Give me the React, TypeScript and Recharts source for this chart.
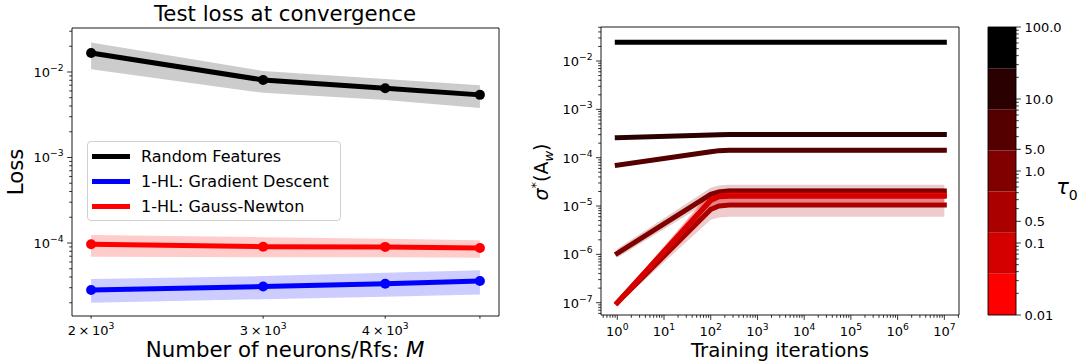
import React from 'react';
import { ComposedChart, Line, Area, XAxis, YAxis, ReferenceArea, Legend } from 'recharts';

const FONT = '"DejaVu Sans", Verdana, sans-serif';
const TICK_FONT = 13;

// left panel: test loss at convergence vs number of neurons
const neurons = [2000, 3000, 4000, 5000];
const neuronTickLabels = ['2', '3', '4'];
const rfLoss = [0.0167, 0.00806, 0.00645, 0.0054];
const rfLow = [0.0108, 0.0057, 0.0047, 0.0038];
const rfHigh = [0.0222, 0.0103, 0.0083, 0.007];
const gdLoss = [2.82e-5, 3.1e-5, 3.34e-5, 3.6e-5];
const gdLow = [2.0e-5, 2.2e-5, 2.35e-5, 2.5e-5];
const gdHigh = [3.8e-5, 4.1e-5, 4.5e-5, 4.8e-5];
const gnLoss = [9.66e-5, 9.05e-5, 9.0e-5, 8.75e-5];
const gnLow = [6.9e-5, 6.8e-5, 6.8e-5, 6.7e-5];
const gnHigh = [1.24e-4, 1.17e-4, 1.12e-4, 1.08e-4];

const legendItems = [
  { name: 'Random Features', color: '#000000' },
  { name: '1-HL: Gradient Descent', color: '#0000ff' },
  { name: '1-HL: Gauss-Newton', color: '#ff0000' },
];

// right panel: sigma*(A_w) over training, one curve per tau_0
const iterations = [1, 100, 150, 250, 1e3, 1e4, 1e5, 1e6, 1e7];
const sigTau100 = [0.0245, 0.0245, 0.0245, 0.0245, 0.0245, 0.0245, 0.0245, 0.0245, 0.0245];
const sigTau10 = [2.6e-4, 2.95e-4, 3.0e-4, 3.02e-4, 3.02e-4, 3.02e-4, 3.02e-4, 3.02e-4, 3.02e-4];
const sigTau10Low = [2.5e-4, 2.85e-4, 2.9e-4, 2.92e-4, 2.92e-4, 2.92e-4, 2.92e-4, 2.92e-4, 2.92e-4];
const sigTau10High = [2.7e-4, 3.05e-4, 3.1e-4, 3.12e-4, 3.12e-4, 3.12e-4, 3.12e-4, 3.12e-4, 3.12e-4];
const sigTau5 = [7.0e-5, 1.33e-4, 1.4e-4, 1.43e-4, 1.43e-4, 1.43e-4, 1.43e-4, 1.43e-4, 1.43e-4];
const sigTau5Low = [6.4e-5, 1.2e-4, 1.25e-4, 1.27e-4, 1.27e-4, 1.27e-4, 1.27e-4, 1.27e-4, 1.27e-4];
const sigTau5High = [7.6e-5, 1.47e-4, 1.55e-4, 1.58e-4, 1.58e-4, 1.58e-4, 1.58e-4, 1.58e-4, 1.58e-4];
const sigTau1 = [1.05e-6, 1.75e-5, 1.95e-5, 2.05e-5, 2.05e-5, 2.05e-5, 2.05e-5, 2.05e-5, 2.05e-5];
const sigTau1Low = [0.85e-6, 1.3e-5, 1.5e-5, 1.55e-5, 1.55e-5, 1.55e-5, 1.55e-5, 1.55e-5, 1.55e-5];
const sigTau1High = [1.3e-6, 2.4e-5, 2.65e-5, 2.75e-5, 2.75e-5, 2.75e-5, 2.75e-5, 2.75e-5, 2.75e-5];
const sigTau05 = [1.0e-7, 8.5e-6, 1.0e-5, 1.05e-5, 1.05e-5, 1.05e-5, 1.05e-5, 1.05e-5, 1.05e-5];
const sigTau05Low = [0.9e-7, 5.2e-6, 5.8e-6, 6.0e-6, 6.0e-6, 6.0e-6, 6.0e-6, 6.0e-6, 6.0e-6];
const sigTau05High = [1.1e-7, 1.4e-5, 1.7e-5, 1.8e-5, 1.8e-5, 1.8e-5, 1.8e-5, 1.8e-5, 1.8e-5];
const sigTau01 = [1.0e-7, 1.3e-5, 1.55e-5, 1.6e-5, 1.6e-5, 1.6e-5, 1.6e-5, 1.6e-5, 1.6e-5];
const sigTau01Low = [0.9e-7, 9.0e-6, 1.1e-5, 1.15e-5, 1.15e-5, 1.15e-5, 1.15e-5, 1.15e-5, 1.15e-5];
const sigTau01High = [1.1e-7, 1.9e-5, 2.2e-5, 2.3e-5, 2.3e-5, 2.3e-5, 2.3e-5, 2.3e-5, 2.3e-5];
const sigTau001 = [1.0e-7, 1.35e-5, 1.6e-5, 1.68e-5, 1.68e-5, 1.68e-5, 1.68e-5, 1.68e-5, 1.68e-5];
const sigTau001Low = [0.9e-7, 9.5e-6, 1.15e-5, 1.2e-5, 1.2e-5, 1.2e-5, 1.2e-5, 1.2e-5, 1.2e-5];
const sigTau001High = [1.1e-7, 1.95e-5, 2.25e-5, 2.35e-5, 2.35e-5, 2.35e-5, 2.35e-5, 2.35e-5, 2.35e-5];

// colorbar
const tauTicks = [0.01, 0.1, 0.2, 1, 2, 10, 100];
const tauTickLabels = ['0.01', '0.1', '0.5', '1.0', '5.0', '10.0', '100.0'];
const tauBounds = [0.01, 0.0373, 0.139, 0.518, 1.93, 7.2, 26.8, 100];
const tauColors = ['#ff0000', '#d40000', '#aa0000', '#800000', '#550000', '#2a0000', '#000000'];

const lossData = neurons.map((m, i) => ({
  m,
  rf: rfLoss[i],
  rfBand: [rfLow[i], rfHigh[i]],
  gd: gdLoss[i],
  gdBand: [gdLow[i], gdHigh[i]],
  gn: gnLoss[i],
  gnBand: [gnLow[i], gnHigh[i]],
}));

const tauSeries = [
  { key: 't100', color: '#000000', values: sigTau100, low: null, high: null },
  { key: 't10', color: '#2a0000', values: sigTau10, low: sigTau10Low, high: sigTau10High },
  { key: 't5', color: '#550000', values: sigTau5, low: sigTau5Low, high: sigTau5High },
  { key: 't1', color: '#800000', values: sigTau1, low: sigTau1Low, high: sigTau1High },
  { key: 't05', color: '#aa0000', values: sigTau05, low: sigTau05Low, high: sigTau05High },
  { key: 't001', color: '#ff0000', values: sigTau001, low: sigTau001Low, high: sigTau001High },
  { key: 't01', color: '#d40000', values: sigTau01, low: sigTau01Low, high: sigTau01High },
];

const sigmaData = iterations.map((it, i) => {
  const row: Record<string, any> = { it };
  tauSeries.forEach((s) => {
    row[s.key] = s.values[i];
    if (s.low && s.high) row[s.key + 'Band'] = [s.low[i], s.high[i]];
  });
  return row;
});

const cbarData = [{ x: 0, v: 1 }, { x: 1, v: 1 }];

// 1..9 x 10^k ticks inside [lo, hi]
function logTicks(lo: number, hi: number) {
  const out: number[] = [];
  for (let e = Math.floor(Math.log10(lo)); e <= Math.ceil(Math.log10(hi)); e++) {
    for (let k = 1; k < 10; k++) {
      const v = k * Math.pow(10, e);
      if (v >= lo * 0.999999 && v <= hi * 1.000001) out.push(v);
    }
  }
  return out;
}

function sup(base: string, exp: string) {
  return (
    <>
      <tspan>{base}</tspan>
      <tspan dy={-6} fontSize={9.2}>{exp}</tspan>
    </>
  );
}

function decade(v: number) {
  const e = Math.round(Math.log10(v));
  return sup('10', e < 0 ? `\u2212${-e}` : `${e}`);
}

type Side = 'left' | 'bottom' | 'right';

function makeTick(side: Side, labelled: number[], fmt: (v: number, i: number) => React.ReactNode, majorLen = 4.9, minorLen = 2.8) {
  return (props: any) => {
    const { x, y, payload } = props;
    const v = payload.value as number;
    const idx = labelled.findIndex((m) => Math.abs(m - v) <= m * 1e-6);
    const len = idx >= 0 ? majorLen : minorLen;
    if (side === 'left') {
      return (
        <g>
          <line x1={x} y1={y} x2={x - len} y2={y} stroke="#000" strokeWidth={0.8} />
          {idx >= 0 && (
            <text x={x - len - 3.5} y={y + 5} textAnchor="end" fontSize={TICK_FONT} fontFamily={FONT} fill="#000">
              {fmt(v, idx)}
            </text>
          )}
        </g>
      );
    }
    if (side === 'right') {
      return (
        <g>
          <line x1={x} y1={y} x2={x + len} y2={y} stroke="#000" strokeWidth={0.8} />
          {idx >= 0 && (
            <text x={x + len + 3.5} y={y + 4.7} textAnchor="start" fontSize={TICK_FONT} fontFamily={FONT} fill="#000">
              {fmt(v, idx)}
            </text>
          )}
        </g>
      );
    }
    return (
      <g>
        <line x1={x} y1={y} x2={x} y2={y + len} stroke="#000" strokeWidth={0.8} />
        {idx >= 0 && (
          <text x={x} y={y + len + 16} textAnchor="middle" fontSize={TICK_FONT} fontFamily={FONT} fill="#000">
            {fmt(v, idx)}
          </text>
        )}
      </g>
    );
  };
}

function LossLegend() {
  return (
    <div
      style={{
        width: 252,
        height: 78,
        border: '1px solid #d0d0d0',
        borderRadius: 4,
        background: 'rgba(255,255,255,0.8)',
        fontFamily: FONT,
        fontSize: 16,
        position: 'relative',
      }}
    >
      {legendItems.map((item, i) => (
        <div key={item.name} style={{ position: 'absolute', left: 4, top: 4 + i * 25, height: 20, display: 'flex', alignItems: 'center' }}>
          <span style={{ display: 'inline-block', width: 38, height: 5, background: item.color, marginRight: 11 }} />
          <span style={{ color: '#000', whiteSpace: 'nowrap' }}>{item.name}</span>
        </div>
      ))}
    </div>
  );
}

function LossPanel() {
  const yDomain = [1.4e-5, 0.0327];
  const xDomain = [1912, 5230];
  return (
    <div style={{ position: 'absolute', left: 0, top: 0 }}>
      <ComposedChart width={520} height={362} data={lossData} margin={{ top: 28, left: 71, right: 21, bottom: 45 }}>
        <XAxis
          dataKey="m"
          type="number"
          scale="log"
          domain={xDomain}
          allowDataOverflow
          ticks={neurons}
          interval={0}
          height={1}
          tickSize={0}
          tickMargin={0}
          axisLine={false}
          tick={makeTick('bottom', neurons.slice(0, 3), (v, i) => sup(`${neuronTickLabels[i]}\u2009\u00d7\u200910`, '3'), 2.8, 2.8)}
        />
        <YAxis
          type="number"
          scale="log"
          domain={yDomain}
          allowDataOverflow
          ticks={logTicks(yDomain[0], yDomain[1])}
          interval={0}
          width={1}
          tickSize={0}
          tickMargin={0}
          axisLine={false}
          tick={makeTick('left', [1e-4, 1e-3, 1e-2], (v) => decade(v))}
        />
        <Area dataKey="rfBand" type="linear" stroke="none" fill="#000000" fillOpacity={0.2} isAnimationActive={false} />
        <Area dataKey="gdBand" type="linear" stroke="none" fill="#0000ff" fillOpacity={0.2} isAnimationActive={false} />
        <Area dataKey="gnBand" type="linear" stroke="none" fill="#ff0000" fillOpacity={0.2} isAnimationActive={false} />
        <Line dataKey="rf" type="linear" stroke="#000000" strokeWidth={5} dot={{ r: 5, fill: '#000000', strokeWidth: 0 }} activeDot={false} isAnimationActive={false} />
        <Line dataKey="gd" type="linear" stroke="#0000ff" strokeWidth={5} dot={{ r: 5, fill: '#0000ff', strokeWidth: 0 }} activeDot={false} isAnimationActive={false} />
        <Line dataKey="gn" type="linear" stroke="#ff0000" strokeWidth={5} dot={{ r: 5, fill: '#ff0000', strokeWidth: 0 }} activeDot={false} isAnimationActive={false} />
        <ReferenceArea x1={xDomain[0]} x2={xDomain[1]} y1={yDomain[0]} y2={yDomain[1]} fill="none" fillOpacity={0} stroke="#000" strokeWidth={0.9} ifOverflow="visible" />
        <Legend
          layout="vertical"
          align="center"
          verticalAlign="middle"
          wrapperStyle={{ left: 87, top: 141, width: 254, height: 80 }}
          content={() => <LossLegend />}
        />
      </ComposedChart>
    </div>
  );
}

function SigmaPanel() {
  const yDomain = [5.56e-8, 0.0506];
  const xDomain = [0.448, 2.06e7];
  return (
    <div style={{ position: 'absolute', left: 530, top: 0 }}>
      <ComposedChart width={440} height={362} data={sigmaData} margin={{ top: 27, left: 70, right: 11, bottom: 46 }}>
        <XAxis
          dataKey="it"
          type="number"
          scale="log"
          domain={xDomain}
          allowDataOverflow
          ticks={logTicks(xDomain[0], xDomain[1])}
          interval={0}
          height={1}
          tickSize={0}
          tickMargin={0}
          axisLine={false}
          tick={makeTick('bottom', [1, 10, 100, 1e3, 1e4, 1e5, 1e6, 1e7], (v) => decade(v))}
        />
        <YAxis
          type="number"
          scale="log"
          domain={yDomain}
          allowDataOverflow
          ticks={logTicks(yDomain[0], yDomain[1])}
          interval={0}
          width={1}
          tickSize={0}
          tickMargin={0}
          axisLine={false}
          tick={makeTick('left', [1e-7, 1e-6, 1e-5, 1e-4, 1e-3, 1e-2], (v) => decade(v))}
        />
        {tauSeries
          .filter((s) => s.low)
          .map((s) => (
            <Area key={s.key + 'Band'} dataKey={s.key + 'Band'} type="linear" stroke="none" fill={s.color} fillOpacity={0.2} isAnimationActive={false} />
          ))}
        {tauSeries.map((s) => (
          <Line
            key={s.key}
            dataKey={s.key}
            type="linear"
            stroke={s.color}
            strokeWidth={5}
            strokeLinecap="square"
            dot={false}
            activeDot={false}
            isAnimationActive={false}
          />
        ))}
        <ReferenceArea x1={xDomain[0]} x2={xDomain[1]} y1={yDomain[0]} y2={yDomain[1]} fill="none" fillOpacity={0} stroke="#000" strokeWidth={0.9} ifOverflow="visible" />
      </ComposedChart>
    </div>
  );
}

function TauColorbar() {
  const domain = [0.01, 100];
  return (
    <div style={{ position: 'absolute', left: 980, top: 0 }}>
      <ComposedChart width={98} height={362} data={cbarData} margin={{ top: 27, left: 8, right: 61, bottom: 47 }}>
        <XAxis dataKey="x" type="number" domain={[0, 1]} hide />
        <YAxis
          orientation="right"
          type="number"
          scale="log"
          domain={domain}
          allowDataOverflow
          ticks={logTicks(domain[0], domain[1])}
          interval={0}
          width={1}
          tickSize={0}
          tickMargin={0}
          axisLine={false}
          tick={makeTick('right', tauTicks, (v, i) => tauTickLabels[i])}
        />
        {tauColors.map((c, i) => (
          <ReferenceArea key={c} y1={tauBounds[i]} y2={tauBounds[i + 1]} fill={c} fillOpacity={1} stroke="none" ifOverflow="visible" />
        ))}
        <ReferenceArea y1={domain[0]} y2={domain[1]} fill="none" fillOpacity={0} stroke="#000" strokeWidth={0.9} ifOverflow="visible" />
        <Line dataKey="v" stroke="none" dot={false} activeDot={false} isAnimationActive={false} />
      </ComposedChart>
    </div>
  );
}

const textAt = (x: number, y: number, size: number, rotate = 0): React.CSSProperties => ({
  position: 'absolute',
  left: x,
  top: y,
  transform: `translate(-50%, -50%) rotate(${rotate}deg)`,
  fontFamily: FONT,
  fontSize: size,
  color: '#000',
  whiteSpace: 'nowrap',
  lineHeight: 1.15,
});

export default function App() {
  return (
    <div style={{ position: 'absolute', left: 0, top: 0, width: 1078, height: 362, background: '#fff', overflow: 'hidden' }}>
      <LossPanel />
      <SigmaPanel />
      <TauColorbar />
      <div style={textAt(285, 14, 21.3)}>Test loss at convergence</div>
      <div style={textAt(16, 172, 21.3, -90)}>Loss</div>
      <div style={textAt(285, 350, 21.3)}>
        Number of neurons/Rfs: <i>M</i>
      </div>
      <div style={textAt(780, 351, 19.8)}>Training iterations</div>
      <div style={textAt(543, 172, 19, -90)}>
        <i>σ</i>
        <sup style={{ fontSize: 13 }}>*</sup>(A<sub style={{ fontSize: 13 }}><i>w</i></sub>)
      </div>
      <div style={textAt(1067, 189, 21)}>
        <i>τ</i>
        <sub style={{ fontSize: 14 }}>0</sub>
      </div>
    </div>
  );
}
